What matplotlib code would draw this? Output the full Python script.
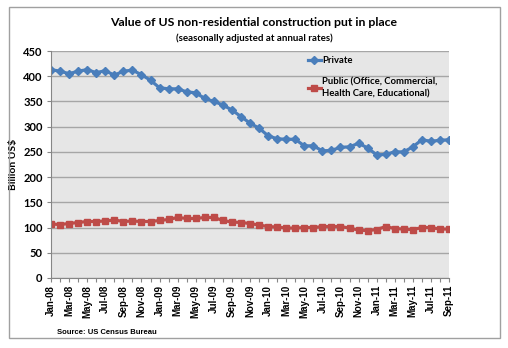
import matplotlib
matplotlib.use("Agg")
import matplotlib.pyplot as plt
from matplotlib.patches import Rectangle
import numpy as np

# months Jan-08 .. Sep-11
meses = ["Jan", "Feb", "Mar", "Apr", "May", "Jun", "Jul", "Aug", "Sep", "Oct", "Nov", "Dec"]
etiquetas = []
for a in ["08", "09", "10", "11"]:
    for m in meses:
        etiquetas.append(m + "-" + a)
etiquetas = etiquetas[:45]

privado = [413, 410, 405, 410, 413, 407, 411, 402, 410, 412, 403, 392,
           377, 375, 375, 369, 367, 356, 350, 343, 333, 320, 307, 297,
           282, 276, 275, 275, 262, 262, 252, 253, 259, 260, 267, 258,
           244, 245, 250, 250, 260, 274, 271, 273, 274]
publico = [107, 106, 108, 110, 112, 112, 113, 115, 112, 113, 112, 112,
           114, 116, 120, 118, 118, 120, 120, 114, 111, 110, 108, 105,
           102, 101, 99, 99, 100, 100, 102, 102, 102, 99, 95, 94,
           96, 102, 98, 97, 96, 100, 100, 97, 97]

fig = plt.figure(figsize=(5.08, 3.48), dpi=100)
fig.patches.append(Rectangle((9/508, 1-338/348), 491/508, 331/348, transform=fig.transFigure,
                             fill=False, edgecolor="#A0A0A0", linewidth=1.0))

ax = fig.add_axes([51/508, 1-278/348, 398/508, 227/348])
ax.set_facecolor("#E6E6E6")
x = np.arange(len(etiquetas))

ax.plot(x, privado, color="#4A7EBB", linewidth=2.3, marker="D", markersize=4,
        label="Private")
ax.plot(x, publico, color="#BE4B48", linewidth=2.3, marker="s", markersize=4,
        label="Public (Office, Commercial,\nHealth Care, Educational)")

ax.set_xlim(0, 44)
ax.set_ylim(0, 450)
ax.set_yticks(range(0, 451, 50))
ax.yaxis.grid(True, color="#A6A6A6", linewidth=1.0)
ax.set_axisbelow(True)
ax.set_xticks(x)
ax.set_xticklabels([e if i % 2 == 0 else "" for i, e in enumerate(etiquetas)],
                   rotation=90, fontsize=7, fontweight="bold", family="Liberation Sans")
for s in ["top", "right"]:
    ax.spines[s].set_visible(False)
for s in ["left", "bottom"]:
    ax.spines[s].set_color("#868686")
ax.tick_params(axis="x", length=3, color="#868686", pad=2)
ax.tick_params(axis="y", length=3, color="#868686", labelsize=8, pad=3)
for t in ax.get_yticklabels():
    t.set_fontweight("bold")
    t.set_family("Lato")
ax.set_ylabel("Billion US$", fontsize=7.5, fontweight="bold", family="Lato", labelpad=4)

leg = ax.legend(loc="upper left", bbox_to_anchor=(0.625, 1.015), frameon=False,
                prop={"family": "Lato", "weight": "bold", "size": 6.8},
                handlelength=1.3, handletextpad=0.2, labelspacing=1.3)
for t in leg.get_texts():
    t.set_linespacing(1.4)

fig.text(254/508, 1-23/348, "Value of US non-residential construction put in place",
         ha="center", va="center", fontsize=8.8, fontweight="bold", family="Lato")
fig.text(254/508, 1-38/348, "(seasonally adjusted at annual rates)",
         ha="center", va="center", fontsize=7, fontweight="bold", family="Lato")
fig.text(57/508, 1-332/348, "Source: US Census Bureau", ha="left", va="center",
         fontsize=5.5, fontweight="bold", family="Liberation Sans")

fig.savefig("out.png", dpi=100)
